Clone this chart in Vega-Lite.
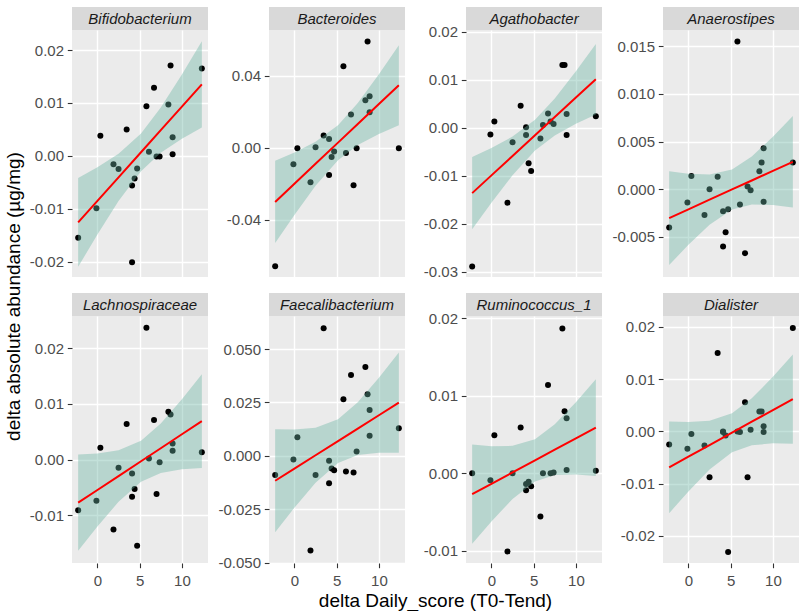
{
"$schema": "https://vega.github.io/schema/vega-lite/v6.json",
"padding": {"left": 4, "top": 7, "right": 0, "bottom": 0},
"background": "white",
"datasets": {
"pts": [
{"p":"Bifidobacterium","x":-2.28,"y":-0.0155},{"p":"Bifidobacterium","x":-0.12,"y":-0.0099},{"p":"Bifidobacterium","x":0.35,"y":0.0038},{"p":"Bifidobacterium","x":1.9,"y":-0.0016},{"p":"Bifidobacterium","x":2.5,"y":-0.0025},{"p":"Bifidobacterium","x":3.46,"y":0.005},{"p":"Bifidobacterium","x":4.1,"y":-0.0056},{"p":"Bifidobacterium","x":4.1,"y":-0.0201},{"p":"Bifidobacterium","x":4.4,"y":-0.0043},{"p":"Bifidobacterium","x":4.7,"y":-0.0024},{"p":"Bifidobacterium","x":5.8,"y":0.0094},{"p":"Bifidobacterium","x":6.1,"y":0.0008},{"p":"Bifidobacterium","x":6.7,"y":0.0129},{"p":"Bifidobacterium","x":7.0,"y":-0.0001},{"p":"Bifidobacterium","x":7.36,"y":-0.0001},{"p":"Bifidobacterium","x":8.4,"y":0.0097},{"p":"Bifidobacterium","x":8.66,"y":0.0171},{"p":"Bifidobacterium","x":8.9,"y":0.0035},{"p":"Bifidobacterium","x":8.9,"y":0.0003},{"p":"Bifidobacterium","x":12.36,"y":0.0165},
{"p":"Bacteroides","x":-2.28,"y":-0.0657},{"p":"Bacteroides","x":-0.12,"y":-0.0091},{"p":"Bacteroides","x":0.35,"y":-0.0002},{"p":"Bacteroides","x":1.9,"y":-0.0191},{"p":"Bacteroides","x":2.5,"y":0.0004},{"p":"Bacteroides","x":3.46,"y":0.0069},{"p":"Bacteroides","x":4.1,"y":0.005},{"p":"Bacteroides","x":4.1,"y":-0.015},{"p":"Bacteroides","x":4.4,"y":-0.005},{"p":"Bacteroides","x":4.7,"y":-0.002},{"p":"Bacteroides","x":5.8,"y":0.0454},{"p":"Bacteroides","x":6.1,"y":-0.0028},{"p":"Bacteroides","x":6.7,"y":0.0185},{"p":"Bacteroides","x":7.0,"y":-0.0207},{"p":"Bacteroides","x":7.36,"y":-0.0002},{"p":"Bacteroides","x":8.4,"y":0.0265},{"p":"Bacteroides","x":8.66,"y":0.0591},{"p":"Bacteroides","x":8.9,"y":0.0287},{"p":"Bacteroides","x":8.9,"y":0.0198},{"p":"Bacteroides","x":12.36,"y":-0.0002},
{"p":"Agathobacter","x":-2.28,"y":-0.0289},{"p":"Agathobacter","x":-0.12,"y":-0.0014},{"p":"Agathobacter","x":0.35,"y":0.0013},{"p":"Agathobacter","x":1.9,"y":-0.0156},{"p":"Agathobacter","x":2.5,"y":-0.003},{"p":"Agathobacter","x":3.46,"y":0.0046},{"p":"Agathobacter","x":4.1,"y":0.0001},{"p":"Agathobacter","x":4.1,"y":-0.0015},{"p":"Agathobacter","x":4.4,"y":-0.0074},{"p":"Agathobacter","x":4.7,"y":-0.009},{"p":"Agathobacter","x":5.8,"y":-0.0022},{"p":"Agathobacter","x":6.1,"y":0.0006},{"p":"Agathobacter","x":6.7,"y":0.003},{"p":"Agathobacter","x":7.0,"y":0.0013},{"p":"Agathobacter","x":7.36,"y":0.0008},{"p":"Agathobacter","x":8.4,"y":0.0131},{"p":"Agathobacter","x":8.66,"y":0.0131},{"p":"Agathobacter","x":8.9,"y":0.0029},{"p":"Agathobacter","x":8.9,"y":-0.0015},{"p":"Agathobacter","x":12.36,"y":0.0024},
{"p":"Anaerostipes","x":-2.28,"y":-0.004},{"p":"Anaerostipes","x":-0.12,"y":-0.0014},{"p":"Anaerostipes","x":0.35,"y":0.0014},{"p":"Anaerostipes","x":1.9,"y":-0.0027},{"p":"Anaerostipes","x":2.5,"y":0.0},{"p":"Anaerostipes","x":3.46,"y":0.0013},{"p":"Anaerostipes","x":4.1,"y":-0.0023},{"p":"Anaerostipes","x":4.1,"y":-0.006},{"p":"Anaerostipes","x":4.4,"y":-0.0045},{"p":"Anaerostipes","x":4.7,"y":-0.0021},{"p":"Anaerostipes","x":5.8,"y":0.0155},{"p":"Anaerostipes","x":6.1,"y":-0.0016},{"p":"Anaerostipes","x":6.7,"y":-0.0067},{"p":"Anaerostipes","x":7.0,"y":0.0003},{"p":"Anaerostipes","x":7.36,"y":-0.0001},{"p":"Anaerostipes","x":8.4,"y":0.0019},{"p":"Anaerostipes","x":8.66,"y":0.0028},{"p":"Anaerostipes","x":8.9,"y":0.0043},{"p":"Anaerostipes","x":8.9,"y":-0.0013},{"p":"Anaerostipes","x":12.36,"y":0.0028},
{"p":"Lachnospiraceae","x":-2.28,"y":-0.0091},{"p":"Lachnospiraceae","x":-0.12,"y":-0.0074},{"p":"Lachnospiraceae","x":0.35,"y":0.0021},{"p":"Lachnospiraceae","x":1.9,"y":-0.0126},{"p":"Lachnospiraceae","x":2.5,"y":-0.0015},{"p":"Lachnospiraceae","x":3.46,"y":0.0064},{"p":"Lachnospiraceae","x":4.1,"y":-0.0025},{"p":"Lachnospiraceae","x":4.1,"y":-0.0067},{"p":"Lachnospiraceae","x":4.4,"y":-0.0053},{"p":"Lachnospiraceae","x":4.7,"y":-0.0155},{"p":"Lachnospiraceae","x":5.8,"y":0.0237},{"p":"Lachnospiraceae","x":6.1,"y":0.0002},{"p":"Lachnospiraceae","x":6.7,"y":0.0071},{"p":"Lachnospiraceae","x":7.0,"y":-0.0062},{"p":"Lachnospiraceae","x":7.36,"y":-0.0005},{"p":"Lachnospiraceae","x":8.4,"y":0.0086},{"p":"Lachnospiraceae","x":8.66,"y":0.0081},{"p":"Lachnospiraceae","x":8.9,"y":0.0029},{"p":"Lachnospiraceae","x":8.9,"y":0.0016},{"p":"Lachnospiraceae","x":12.36,"y":0.0013},
{"p":"Faecalibacterium","x":-2.28,"y":-0.009},{"p":"Faecalibacterium","x":-0.12,"y":-0.0017},{"p":"Faecalibacterium","x":0.35,"y":0.0087},{"p":"Faecalibacterium","x":1.9,"y":-0.0444},{"p":"Faecalibacterium","x":2.5,"y":-0.009},{"p":"Faecalibacterium","x":3.46,"y":0.0598},{"p":"Faecalibacterium","x":4.1,"y":-0.0023},{"p":"Faecalibacterium","x":4.1,"y":-0.0128},{"p":"Faecalibacterium","x":4.4,"y":-0.0059},{"p":"Faecalibacterium","x":4.7,"y":-0.0067},{"p":"Faecalibacterium","x":5.8,"y":0.0265},{"p":"Faecalibacterium","x":6.1,"y":-0.0073},{"p":"Faecalibacterium","x":6.7,"y":0.0379},{"p":"Faecalibacterium","x":7.0,"y":-0.0078},{"p":"Faecalibacterium","x":7.36,"y":0.002},{"p":"Faecalibacterium","x":8.4,"y":0.0416},{"p":"Faecalibacterium","x":8.66,"y":0.0288},{"p":"Faecalibacterium","x":8.9,"y":0.0215},{"p":"Faecalibacterium","x":8.9,"y":0.0094},{"p":"Faecalibacterium","x":12.36,"y":0.0129},
{"p":"Ruminococcus_1","x":-2.28,"y":0.0},{"p":"Ruminococcus_1","x":-0.12,"y":-0.0009},{"p":"Ruminococcus_1","x":0.35,"y":0.0049},{"p":"Ruminococcus_1","x":1.9,"y":-0.0101},{"p":"Ruminococcus_1","x":2.5,"y":0.0},{"p":"Ruminococcus_1","x":3.46,"y":0.0059},{"p":"Ruminococcus_1","x":4.1,"y":-0.0022},{"p":"Ruminococcus_1","x":4.1,"y":-0.0014},{"p":"Ruminococcus_1","x":4.4,"y":-0.0011},{"p":"Ruminococcus_1","x":4.7,"y":-0.0017},{"p":"Ruminococcus_1","x":5.8,"y":-0.0056},{"p":"Ruminococcus_1","x":6.1,"y":0.0},{"p":"Ruminococcus_1","x":6.7,"y":0.0114},{"p":"Ruminococcus_1","x":7.0,"y":0.0},{"p":"Ruminococcus_1","x":7.36,"y":0.0001},{"p":"Ruminococcus_1","x":8.4,"y":0.0187},{"p":"Ruminococcus_1","x":8.66,"y":0.008},{"p":"Ruminococcus_1","x":8.9,"y":0.0071},{"p":"Ruminococcus_1","x":8.9,"y":0.0004},{"p":"Ruminococcus_1","x":12.36,"y":0.0003},
{"p":"Dialister","x":-2.28,"y":-0.0025},{"p":"Dialister","x":-0.12,"y":-0.0033},{"p":"Dialister","x":0.35,"y":-0.0005},{"p":"Dialister","x":1.9,"y":-0.0027},{"p":"Dialister","x":2.5,"y":-0.0088},{"p":"Dialister","x":3.46,"y":0.015},{"p":"Dialister","x":4.1,"y":0.0},{"p":"Dialister","x":4.1,"y":-0.0001},{"p":"Dialister","x":4.4,"y":-0.0008},{"p":"Dialister","x":4.7,"y":-0.0231},{"p":"Dialister","x":5.8,"y":0.0},{"p":"Dialister","x":6.1,"y":-0.0001},{"p":"Dialister","x":6.7,"y":0.0056},{"p":"Dialister","x":7.0,"y":-0.0088},{"p":"Dialister","x":7.36,"y":0.0003},{"p":"Dialister","x":8.4,"y":0.0038},{"p":"Dialister","x":8.66,"y":0.0038},{"p":"Dialister","x":8.9,"y":0.001},{"p":"Dialister","x":8.9,"y":-0.0001},{"p":"Dialister","x":12.36,"y":0.0198}
],
"fit": [
{"p":"Bifidobacterium","x":-2.28,"fit":-0.01258,"lo":-0.02097,"hi":-0.00419},{"p":"Bifidobacterium","x":0,"fit":-0.00852,"lo":-0.01488,"hi":-0.00216},{"p":"Bifidobacterium","x":2.5,"fit":-0.00406,"lo":-0.00854,"hi":0.00042},{"p":"Bifidobacterium","x":5.16,"fit":0.00068,"lo":-0.00289,"hi":0.00425},{"p":"Bifidobacterium","x":7.5,"fit":0.00486,"lo":0.00057,"hi":0.00915},{"p":"Bifidobacterium","x":10,"fit":0.00931,"lo":0.00322,"hi":0.0154},{"p":"Bifidobacterium","x":12.36,"fit":0.01352,"lo":0.00536,"hi":0.02169},
{"p":"Bacteroides","x":-2.28,"fit":-0.03,"lo":-0.05285,"hi":-0.00715},{"p":"Bacteroides","x":0,"fit":-0.01991,"lo":-0.03724,"hi":-0.00258},{"p":"Bacteroides","x":2.5,"fit":-0.00884,"lo":-0.02105,"hi":0.00337},{"p":"Bacteroides","x":5.16,"fit":0.00293,"lo":-0.00679,"hi":0.01265},{"p":"Bacteroides","x":7.5,"fit":0.01329,"lo":0.00159,"hi":0.02499},{"p":"Bacteroides","x":10,"fit":0.02435,"lo":0.00775,"hi":0.04095},{"p":"Bacteroides","x":12.36,"fit":0.0348,"lo":0.01255,"hi":0.05705},
{"p":"Agathobacter","x":-2.28,"fit":-0.01361,"lo":-0.02116,"hi":-0.00607},{"p":"Agathobacter","x":0,"fit":-0.00991,"lo":-0.01563,"hi":-0.00419},{"p":"Agathobacter","x":2.5,"fit":-0.00586,"lo":-0.00989,"hi":-0.00183},{"p":"Agathobacter","x":5.16,"fit":-0.00154,"lo":-0.00475,"hi":0.00167},{"p":"Agathobacter","x":7.5,"fit":0.00226,"lo":-0.0016,"hi":0.00612},{"p":"Agathobacter","x":10,"fit":0.00631,"lo":0.00083,"hi":0.01179},{"p":"Agathobacter","x":12.36,"fit":0.01014,"lo":0.00279,"hi":0.01749},
{"p":"Anaerostipes","x":-2.28,"fit":-0.00302,"lo":-0.00794,"hi":0.0019},{"p":"Anaerostipes","x":0,"fit":-0.0021,"lo":-0.00583,"hi":0.00163},{"p":"Anaerostipes","x":2.5,"fit":-0.00109,"lo":-0.00372,"hi":0.00154},{"p":"Anaerostipes","x":5.16,"fit":-0.00002,"lo":-0.00211,"hi":0.00207},{"p":"Anaerostipes","x":7.5,"fit":0.00092,"lo":-0.0016,"hi":0.00344},{"p":"Anaerostipes","x":10,"fit":0.00193,"lo":-0.00164,"hi":0.0055},{"p":"Anaerostipes","x":12.36,"fit":0.00288,"lo":-0.00191,"hi":0.00767},
{"p":"Lachnospiraceae","x":-2.28,"fit":-0.00776,"lo":-0.01642,"hi":0.0009},{"p":"Lachnospiraceae","x":0,"fit":-0.00548,"lo":-0.01205,"hi":0.00109},{"p":"Lachnospiraceae","x":2.5,"fit":-0.00297,"lo":-0.0076,"hi":0.00166},{"p":"Lachnospiraceae","x":5.16,"fit":-0.00031,"lo":-0.00399,"hi":0.00337},{"p":"Lachnospiraceae","x":7.5,"fit":0.00203,"lo":-0.0024,"hi":0.00646},{"p":"Lachnospiraceae","x":10,"fit":0.00454,"lo":-0.00175,"hi":0.01083},{"p":"Lachnospiraceae","x":12.36,"fit":0.0069,"lo":-0.00153,"hi":0.01533},
{"p":"Faecalibacterium","x":-2.28,"fit":-0.01168,"lo":-0.0358,"hi":0.01244},{"p":"Faecalibacterium","x":0,"fit":-0.00598,"lo":-0.02427,"hi":0.01231},{"p":"Faecalibacterium","x":2.5,"fit":0.00027,"lo":-0.01262,"hi":0.01316},{"p":"Faecalibacterium","x":5.16,"fit":0.00692,"lo":-0.00334,"hi":0.01718},{"p":"Faecalibacterium","x":7.5,"fit":0.01277,"lo":0.00043,"hi":0.02511},{"p":"Faecalibacterium","x":10,"fit":0.01902,"lo":0.0015,"hi":0.03654},{"p":"Faecalibacterium","x":12.36,"fit":0.02492,"lo":0.00144,"hi":0.0484},
{"p":"Ruminococcus_1","x":-2.28,"fit":-0.00271,"lo":-0.00912,"hi":0.0037},{"p":"Ruminococcus_1","x":0,"fit":-0.00137,"lo":-0.00623,"hi":0.00349},{"p":"Ruminococcus_1","x":2.5,"fit":0.0001,"lo":-0.00333,"hi":0.00353},{"p":"Ruminococcus_1","x":5.16,"fit":0.00166,"lo":-0.00107,"hi":0.00439},{"p":"Ruminococcus_1","x":7.5,"fit":0.00304,"lo":-0.00024,"hi":0.00632},{"p":"Ruminococcus_1","x":10,"fit":0.0045,"lo":-0.00016,"hi":0.00916},{"p":"Ruminococcus_1","x":12.36,"fit":0.00589,"lo":-0.00035,"hi":0.01213},
{"p":"Dialister","x":-2.28,"fit":-0.00689,"lo":-0.01566,"hi":0.00188},{"p":"Dialister","x":0,"fit":-0.00485,"lo":-0.0115,"hi":0.0018},{"p":"Dialister","x":2.5,"fit":-0.00262,"lo":-0.0073,"hi":0.00206},{"p":"Dialister","x":5.16,"fit":-0.00024,"lo":-0.00397,"hi":0.00349},{"p":"Dialister","x":7.5,"fit":0.00185,"lo":-0.00264,"hi":0.00634},{"p":"Dialister","x":10,"fit":0.00408,"lo":-0.00229,"hi":0.01045},{"p":"Dialister","x":12.36,"fit":0.00619,"lo":-0.00234,"hi":0.01472}
]
},
"columns": 4,
"spacing": {"row": 0, "column": 61},
"bounds": "flush",
"concat": [
  {"width":136,"height":23,"view":{"fill":"#D9D9D9","stroke":null},"data":{"values":[{"p":"Bifidobacterium"}]},"mark":{"type":"text","font":"Liberation Sans","fontStyle":"italic","fontSize":15,"color":"#1A1A1A"},"encoding":{"text":{"field":"p"}}},
  {"width":136,"height":23,"view":{"fill":"#D9D9D9","stroke":null},"data":{"values":[{"p":"Bacteroides"}]},"mark":{"type":"text","font":"Liberation Sans","fontStyle":"italic","fontSize":15,"color":"#1A1A1A"},"encoding":{"text":{"field":"p"}}},
  {"width":136,"height":23,"view":{"fill":"#D9D9D9","stroke":null},"data":{"values":[{"p":"Agathobacter"}]},"mark":{"type":"text","font":"Liberation Sans","fontStyle":"italic","fontSize":15,"color":"#1A1A1A"},"encoding":{"text":{"field":"p"}}},
  {"width":136,"height":23,"view":{"fill":"#D9D9D9","stroke":null},"data":{"values":[{"p":"Anaerostipes"}]},"mark":{"type":"text","font":"Liberation Sans","fontStyle":"italic","fontSize":15,"color":"#1A1A1A"},"encoding":{"text":{"field":"p"}}},

  {"width":136,"height":247,"view":{"fill":"#EBEBEB","stroke":null},"resolve":{"axis":{"x":"independent","y":"independent"}},
   "layer":[
    {"data":{"name":"pts"},"transform":[{"filter":"datum.p === 'Bifidobacterium'"}],"mark":{"type":"circle","color":"#000000","size":36,"opacity":1},
     "encoding":{"x":{"field":"x","type":"quantitative","scale":{"domain":[-3.01,13.09],"nice":false,"zero":false},"axis":{"values":[0,5,10],"labels":false,"ticks":false,"title":null}},
                 "y":{"field":"y","type":"quantitative","scale":{"domain":[-0.0229,0.0238],"nice":false,"zero":false},"axis":{"values":[-0.02,-0.01,0,0.01,0.02],"format":".2f","title":"delta absolute abundance (µg/mg)","titleY":266,"titlePadding":6}}}},
    {"data":{"name":"fit"},"transform":[{"filter":"datum.p === 'Bifidobacterium'"}],"mark":{"type":"area","color":"#69b3a2","opacity":0.4},
     "encoding":{"x":{"field":"x","type":"quantitative","scale":{"domain":[-3.01,13.09],"nice":false,"zero":false},"axis":{"values":[-2.5,2.5,7.5,12.5],"labels":false,"ticks":false,"title":null,"gridWidth":0.7}},
                 "y":{"field":"lo","type":"quantitative","scale":{"domain":[-0.0229,0.0238],"nice":false,"zero":false},"axis":{"values":[-0.015,-0.005,0.005,0.015],"labels":false,"ticks":false,"title":null,"gridWidth":0.7}},"y2":{"field":"hi"}}},
    {"data":{"name":"fit"},"transform":[{"filter":"datum.p === 'Bifidobacterium'"}],"mark":{"type":"line","color":"#FF0000","strokeWidth":2},
     "encoding":{"x":{"field":"x","type":"quantitative","scale":{"domain":[-3.01,13.09],"nice":false,"zero":false},"axis":null},"y":{"field":"fit","type":"quantitative","scale":{"domain":[-0.0229,0.0238],"nice":false,"zero":false},"axis":null}}}
   ]},
  {"width":136,"height":247,"view":{"fill":"#EBEBEB","stroke":null},"resolve":{"axis":{"x":"independent","y":"independent"}},
   "layer":[
    {"data":{"name":"pts"},"transform":[{"filter":"datum.p === 'Bacteroides'"}],"mark":{"type":"circle","color":"#000000","size":36,"opacity":1},
     "encoding":{"x":{"field":"x","type":"quantitative","scale":{"domain":[-3.01,13.09],"nice":false,"zero":false},"axis":{"values":[0,5,10],"labels":false,"ticks":false,"title":null}},
                 "y":{"field":"y","type":"quantitative","scale":{"domain":[-0.0717,0.0655],"nice":false,"zero":false},"axis":{"values":[-0.04,0,0.04],"format":".2f","title":null}}}},
    {"data":{"name":"fit"},"transform":[{"filter":"datum.p === 'Bacteroides'"}],"mark":{"type":"area","color":"#69b3a2","opacity":0.4},
     "encoding":{"x":{"field":"x","type":"quantitative","scale":{"domain":[-3.01,13.09],"nice":false,"zero":false},"axis":{"values":[-2.5,2.5,7.5,12.5],"labels":false,"ticks":false,"title":null,"gridWidth":0.7}},
                 "y":{"field":"lo","type":"quantitative","scale":{"domain":[-0.0717,0.0655],"nice":false,"zero":false},"axis":{"values":[-0.06,-0.02,0.02,0.06],"labels":false,"ticks":false,"title":null,"gridWidth":0.7}},"y2":{"field":"hi"}}},
    {"data":{"name":"fit"},"transform":[{"filter":"datum.p === 'Bacteroides'"}],"mark":{"type":"line","color":"#FF0000","strokeWidth":2},
     "encoding":{"x":{"field":"x","type":"quantitative","scale":{"domain":[-3.01,13.09],"nice":false,"zero":false},"axis":null},"y":{"field":"fit","type":"quantitative","scale":{"domain":[-0.0717,0.0655],"nice":false,"zero":false},"axis":null}}}
   ]},
  {"width":136,"height":247,"view":{"fill":"#EBEBEB","stroke":null},"resolve":{"axis":{"x":"independent","y":"independent"}},
   "layer":[
    {"data":{"name":"pts"},"transform":[{"filter":"datum.p === 'Agathobacter'"}],"mark":{"type":"circle","color":"#000000","size":36,"opacity":1},
     "encoding":{"x":{"field":"x","type":"quantitative","scale":{"domain":[-3.01,13.09],"nice":false,"zero":false},"axis":{"values":[0,5,10],"labels":false,"ticks":false,"title":null}},
                 "y":{"field":"y","type":"quantitative","scale":{"domain":[-0.0311,0.0204],"nice":false,"zero":false},"axis":{"values":[-0.03,-0.02,-0.01,0,0.01,0.02],"format":".2f","title":null}}}},
    {"data":{"name":"fit"},"transform":[{"filter":"datum.p === 'Agathobacter'"}],"mark":{"type":"area","color":"#69b3a2","opacity":0.4},
     "encoding":{"x":{"field":"x","type":"quantitative","scale":{"domain":[-3.01,13.09],"nice":false,"zero":false},"axis":{"values":[-2.5,2.5,7.5,12.5],"labels":false,"ticks":false,"title":null,"gridWidth":0.7}},
                 "y":{"field":"lo","type":"quantitative","scale":{"domain":[-0.0311,0.0204],"nice":false,"zero":false},"axis":{"values":[-0.025,-0.015,-0.005,0.005,0.015],"labels":false,"ticks":false,"title":null,"gridWidth":0.7}},"y2":{"field":"hi"}}},
    {"data":{"name":"fit"},"transform":[{"filter":"datum.p === 'Agathobacter'"}],"mark":{"type":"line","color":"#FF0000","strokeWidth":2},
     "encoding":{"x":{"field":"x","type":"quantitative","scale":{"domain":[-3.01,13.09],"nice":false,"zero":false},"axis":null},"y":{"field":"fit","type":"quantitative","scale":{"domain":[-0.0311,0.0204],"nice":false,"zero":false},"axis":null}}}
   ]},
  {"width":136,"height":247,"view":{"fill":"#EBEBEB","stroke":null},"resolve":{"axis":{"x":"independent","y":"independent"}},
   "layer":[
    {"data":{"name":"pts"},"transform":[{"filter":"datum.p === 'Anaerostipes'"}],"mark":{"type":"circle","color":"#000000","size":36,"opacity":1},
     "encoding":{"x":{"field":"x","type":"quantitative","scale":{"domain":[-3.01,13.09],"nice":false,"zero":false},"axis":{"values":[0,5,10],"labels":false,"ticks":false,"title":null}},
                 "y":{"field":"y","type":"quantitative","scale":{"domain":[-0.0092,0.0167],"nice":false,"zero":false},"axis":{"values":[-0.005,0,0.005,0.01,0.015],"format":".3f","title":null}}}},
    {"data":{"name":"fit"},"transform":[{"filter":"datum.p === 'Anaerostipes'"}],"mark":{"type":"area","color":"#69b3a2","opacity":0.4},
     "encoding":{"x":{"field":"x","type":"quantitative","scale":{"domain":[-3.01,13.09],"nice":false,"zero":false},"axis":{"values":[-2.5,2.5,7.5,12.5],"labels":false,"ticks":false,"title":null,"gridWidth":0.7}},
                 "y":{"field":"lo","type":"quantitative","scale":{"domain":[-0.0092,0.0167],"nice":false,"zero":false},"axis":{"values":[-0.0075,-0.0025,0.0025,0.0075,0.0125],"labels":false,"ticks":false,"title":null,"gridWidth":0.7}},"y2":{"field":"hi"}}},
    {"data":{"name":"fit"},"transform":[{"filter":"datum.p === 'Anaerostipes'"}],"mark":{"type":"line","color":"#FF0000","strokeWidth":2},
     "encoding":{"x":{"field":"x","type":"quantitative","scale":{"domain":[-3.01,13.09],"nice":false,"zero":false},"axis":null},"y":{"field":"fit","type":"quantitative","scale":{"domain":[-0.0092,0.0167],"nice":false,"zero":false},"axis":null}}}
   ]},

  {"width":136,"height":16,"data":{"values":[]},"mark":"point"},
  {"width":136,"height":16,"data":{"values":[]},"mark":"point"},
  {"width":136,"height":16,"data":{"values":[]},"mark":"point"},
  {"width":136,"height":16,"data":{"values":[]},"mark":"point"},

  {"width":136,"height":23,"view":{"fill":"#D9D9D9","stroke":null},"data":{"values":[{"p":"Lachnospiraceae"}]},"mark":{"type":"text","font":"Liberation Sans","fontStyle":"italic","fontSize":15,"color":"#1A1A1A"},"encoding":{"text":{"field":"p"}}},
  {"width":136,"height":23,"view":{"fill":"#D9D9D9","stroke":null},"data":{"values":[{"p":"Faecalibacterium"}]},"mark":{"type":"text","font":"Liberation Sans","fontStyle":"italic","fontSize":15,"color":"#1A1A1A"},"encoding":{"text":{"field":"p"}}},
  {"width":136,"height":23,"view":{"fill":"#D9D9D9","stroke":null},"data":{"values":[{"p":"Ruminococcus_1"}]},"mark":{"type":"text","font":"Liberation Sans","fontStyle":"italic","fontSize":15,"color":"#1A1A1A"},"encoding":{"text":{"field":"p"}}},
  {"width":136,"height":23,"view":{"fill":"#D9D9D9","stroke":null},"data":{"values":[{"p":"Dialister"}]},"mark":{"type":"text","font":"Liberation Sans","fontStyle":"italic","fontSize":15,"color":"#1A1A1A"},"encoding":{"text":{"field":"p"}}},

  {"width":136,"height":247,"view":{"fill":"#EBEBEB","stroke":null},"resolve":{"axis":{"x":"independent","y":"independent"}},
   "layer":[
    {"data":{"name":"pts"},"transform":[{"filter":"datum.p === 'Lachnospiraceae'"}],"mark":{"type":"circle","color":"#000000","size":36,"opacity":1},
     "encoding":{"x":{"field":"x","type":"quantitative","scale":{"domain":[-3.01,13.09],"nice":false,"zero":false},"axis":{"values":[0,5,10],"title":null,"labelPadding":6}},
                 "y":{"field":"y","type":"quantitative","scale":{"domain":[-0.0186,0.0258],"nice":false,"zero":false},"axis":{"values":[-0.01,0,0.01,0.02],"format":".2f","title":null}}}},
    {"data":{"name":"fit"},"transform":[{"filter":"datum.p === 'Lachnospiraceae'"}],"mark":{"type":"area","color":"#69b3a2","opacity":0.4},
     "encoding":{"x":{"field":"x","type":"quantitative","scale":{"domain":[-3.01,13.09],"nice":false,"zero":false},"axis":{"values":[-2.5,2.5,7.5,12.5],"labels":false,"ticks":false,"title":null,"gridWidth":0.7}},
                 "y":{"field":"lo","type":"quantitative","scale":{"domain":[-0.0186,0.0258],"nice":false,"zero":false},"axis":{"values":[-0.015,-0.005,0.005,0.015,0.025],"labels":false,"ticks":false,"title":null,"gridWidth":0.7}},"y2":{"field":"hi"}}},
    {"data":{"name":"fit"},"transform":[{"filter":"datum.p === 'Lachnospiraceae'"}],"mark":{"type":"line","color":"#FF0000","strokeWidth":2},
     "encoding":{"x":{"field":"x","type":"quantitative","scale":{"domain":[-3.01,13.09],"nice":false,"zero":false},"axis":null},"y":{"field":"fit","type":"quantitative","scale":{"domain":[-0.0186,0.0258],"nice":false,"zero":false},"axis":null}}}
   ]},
  {"width":136,"height":247,"view":{"fill":"#EBEBEB","stroke":null},"resolve":{"axis":{"x":"independent","y":"independent"}},
   "layer":[
    {"data":{"name":"pts"},"transform":[{"filter":"datum.p === 'Faecalibacterium'"}],"mark":{"type":"circle","color":"#000000","size":36,"opacity":1},
     "encoding":{"x":{"field":"x","type":"quantitative","scale":{"domain":[-3.01,13.09],"nice":false,"zero":false},"axis":{"values":[0,5,10],"title":"delta Daily_score (T0-Tend)","titleX":166,"titlePadding":3,"labelPadding":6}},
                 "y":{"field":"y","type":"quantitative","scale":{"domain":[-0.0502,0.0655],"nice":false,"zero":false},"axis":{"values":[-0.05,-0.025,0,0.025,0.05],"format":".3f","title":null}}}},
    {"data":{"name":"fit"},"transform":[{"filter":"datum.p === 'Faecalibacterium'"}],"mark":{"type":"area","color":"#69b3a2","opacity":0.4},
     "encoding":{"x":{"field":"x","type":"quantitative","scale":{"domain":[-3.01,13.09],"nice":false,"zero":false},"axis":{"values":[-2.5,2.5,7.5,12.5],"labels":false,"ticks":false,"title":null,"gridWidth":0.7}},
                 "y":{"field":"lo","type":"quantitative","scale":{"domain":[-0.0502,0.0655],"nice":false,"zero":false},"axis":{"values":[-0.0375,-0.0125,0.0125,0.0375,0.0625],"labels":false,"ticks":false,"title":null,"gridWidth":0.7}},"y2":{"field":"hi"}}},
    {"data":{"name":"fit"},"transform":[{"filter":"datum.p === 'Faecalibacterium'"}],"mark":{"type":"line","color":"#FF0000","strokeWidth":2},
     "encoding":{"x":{"field":"x","type":"quantitative","scale":{"domain":[-3.01,13.09],"nice":false,"zero":false},"axis":null},"y":{"field":"fit","type":"quantitative","scale":{"domain":[-0.0502,0.0655],"nice":false,"zero":false},"axis":null}}}
   ]},
  {"width":136,"height":247,"view":{"fill":"#EBEBEB","stroke":null},"resolve":{"axis":{"x":"independent","y":"independent"}},
   "layer":[
    {"data":{"name":"pts"},"transform":[{"filter":"datum.p === 'Ruminococcus_1'"}],"mark":{"type":"circle","color":"#000000","size":36,"opacity":1},
     "encoding":{"x":{"field":"x","type":"quantitative","scale":{"domain":[-3.01,13.09],"nice":false,"zero":false},"axis":{"values":[0,5,10],"title":null,"labelPadding":6}},
                 "y":{"field":"y","type":"quantitative","scale":{"domain":[-0.0116,0.0203],"nice":false,"zero":false},"axis":{"values":[-0.01,0,0.01,0.02],"format":".2f","title":null}}}},
    {"data":{"name":"fit"},"transform":[{"filter":"datum.p === 'Ruminococcus_1'"}],"mark":{"type":"area","color":"#69b3a2","opacity":0.4},
     "encoding":{"x":{"field":"x","type":"quantitative","scale":{"domain":[-3.01,13.09],"nice":false,"zero":false},"axis":{"values":[-2.5,2.5,7.5,12.5],"labels":false,"ticks":false,"title":null,"gridWidth":0.7}},
                 "y":{"field":"lo","type":"quantitative","scale":{"domain":[-0.0116,0.0203],"nice":false,"zero":false},"axis":{"values":[-0.005,0.005,0.015],"labels":false,"ticks":false,"title":null,"gridWidth":0.7}},"y2":{"field":"hi"}}},
    {"data":{"name":"fit"},"transform":[{"filter":"datum.p === 'Ruminococcus_1'"}],"mark":{"type":"line","color":"#FF0000","strokeWidth":2},
     "encoding":{"x":{"field":"x","type":"quantitative","scale":{"domain":[-3.01,13.09],"nice":false,"zero":false},"axis":null},"y":{"field":"fit","type":"quantitative","scale":{"domain":[-0.0116,0.0203],"nice":false,"zero":false},"axis":null}}}
   ]},
  {"width":136,"height":247,"view":{"fill":"#EBEBEB","stroke":null},"resolve":{"axis":{"x":"independent","y":"independent"}},
   "layer":[
    {"data":{"name":"pts"},"transform":[{"filter":"datum.p === 'Dialister'"}],"mark":{"type":"circle","color":"#000000","size":36,"opacity":1},
     "encoding":{"x":{"field":"x","type":"quantitative","scale":{"domain":[-3.01,13.09],"nice":false,"zero":false},"axis":{"values":[0,5,10],"title":null,"labelPadding":6}},
                 "y":{"field":"y","type":"quantitative","scale":{"domain":[-0.0252,0.0221],"nice":false,"zero":false},"axis":{"values":[-0.02,-0.01,0,0.01,0.02],"format":".2f","title":null}}}},
    {"data":{"name":"fit"},"transform":[{"filter":"datum.p === 'Dialister'"}],"mark":{"type":"area","color":"#69b3a2","opacity":0.4},
     "encoding":{"x":{"field":"x","type":"quantitative","scale":{"domain":[-3.01,13.09],"nice":false,"zero":false},"axis":{"values":[-2.5,2.5,7.5,12.5],"labels":false,"ticks":false,"title":null,"gridWidth":0.7}},
                 "y":{"field":"lo","type":"quantitative","scale":{"domain":[-0.0252,0.0221],"nice":false,"zero":false},"axis":{"values":[-0.025,-0.015,-0.005,0.005,0.015],"labels":false,"ticks":false,"title":null,"gridWidth":0.7}},"y2":{"field":"hi"}}},
    {"data":{"name":"fit"},"transform":[{"filter":"datum.p === 'Dialister'"}],"mark":{"type":"line","color":"#FF0000","strokeWidth":2},
     "encoding":{"x":{"field":"x","type":"quantitative","scale":{"domain":[-3.01,13.09],"nice":false,"zero":false},"axis":null},"y":{"field":"fit","type":"quantitative","scale":{"domain":[-0.0252,0.0221],"nice":false,"zero":false},"axis":null}}}
   ]}
],
"config": {
 "font": "Liberation Sans",
 "locale": {"number": {"decimal": ".", "thousands": ",", "grouping": [3], "currency": ["$", ""], "minus": "-"}},
 "view": {"stroke": null},
 "axis": {"domain": false, "labelFont": "Liberation Sans", "labelFontSize": 15, "labelColor": "#4D4D4D", "tickColor": "#333333", "tickSize": 4.7, "tickWidth": 1.1, "labelPadding": 3.8, "gridColor": "#FFFFFF", "gridWidth": 1.4, "gridOpacity": 1, "labelOverlap": false, "labelFlush": false, "titleFont": "Liberation Sans", "titleFontSize": 19, "titleFontWeight": "normal", "titleColor": "#000000"}
}
}
